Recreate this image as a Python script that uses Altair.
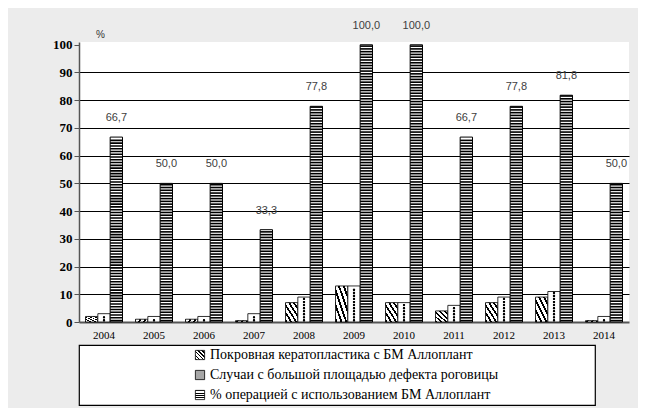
import altair as alt
import pandas as pd

years = ["2004", "2005", "2006", "2007", "2008", "2009", "2010", "2011", "2012", "2013", "2014"]
s1 = [2, 1, 1, 0.5, 7, 13, 7, 4, 7, 9, 0.5]
s2 = [3, 2, 2, 3, 9, 13, 7, 6, 9, 11, 2]
s3 = [66.7, 50, 50, 33.3, 77.8, 100, 100, 66.7, 77.8, 81.8, 50]
series = [
    "Покровная кератопластика с БМ Аллоплант",
    "Случаи с большой площадью дефекта роговицы",
    "% операцией с использованием БМ Аллоплант",
]
y_ticks = list(range(0, 101, 10))

SERIF = "'Liberation Serif', 'Times New Roman', 'DejaVu Serif', serif"
SANS = "'Liberation Sans', Arial, sans-serif"

def frame(vals, name):
    return pd.DataFrame({
        "year": years,
        "series": name,
        "value": vals,
        "label": [f"{v:.1f}".replace(".", ",") for v in vals],
    })

d1, d2, d3 = frame(s1, series[0]), frame(s2, series[1]), frame(s3, series[2])

# horizontal hatching texture for the third series, derived from its values
stripe_rows = []
for yr, v in zip(years, s3):
    k = 0
    while k + 0.8 <= v:
        stripe_rows.append({"year": yr, "series": series[2], "lo": k + 0.22, "hi": k + 0.8})
        k += 1
dst = pd.DataFrame(stripe_rows)

# dotted texture for the second series, derived from its values
dot_a, dot_b = [], []
for yr, v in zip(years, s2):
    k = 0
    while 0.6 + 1.1 * k < v - 0.3:
        row = {"year": yr, "series": series[1], "pos": 0.6 + 1.1 * k}
        (dot_a if k % 2 == 0 else dot_b).append(row)
        k += 1
dda, ddb = pd.DataFrame(dot_a), pd.DataFrame(dot_b)

def stripes_gradient(n, x1, y1, x2, y2, dark=0.45):
    stops = []
    for i in range(n):
        a = i / n
        b = (i + dark) / n
        c = (i + 1) / n
        stops += [
            alt.GradientStop(offset=a, color="black"),
            alt.GradientStop(offset=b, color="black"),
            alt.GradientStop(offset=b, color="white"),
            alt.GradientStop(offset=c, color="white"),
        ]
    return alt.Gradient(gradient="linear", stops=stops, x1=x1, y1=y1, x2=x2, y2=y2)

grad_diag = stripes_gradient(5, 0, 1, 1, 0, dark=0.4)
grad_horiz = stripes_gradient(4, 0, 0, 0, 1, dark=0.4)
dots_fill = "#a6a6a6"

x_enc = alt.X(
    "year:N", sort=years, title=None,
    scale=alt.Scale(domain=years, paddingInner=0.26, paddingOuter=0.13),
    axis=alt.Axis(labelFont=SERIF, labelFontSize=11, labelColor="black",
                  labelPadding=7, ticks=False, domainColor="#555555", domainWidth=2,
                  labelAngle=0),
)
xo_enc = alt.XOffset("series:N", sort=series,
                     scale=alt.Scale(domain=series, paddingInner=0, paddingOuter=0))
y_axis = alt.Axis(
    values=y_ticks, title="%", titleAngle=0, titleX=21, titleY=-3, titleAlign="center",
    titleBaseline="bottom", titleFont=SANS, titleFontSize=10,
    titleFontWeight="normal", titleColor="#333333",
    labelFont=SERIF, labelFontSize=13, labelFontWeight="bold", labelColor="black",
    tickColor="#555555", tickSize=5, domainColor="#555555", domainWidth=1.5,
    gridColor="black", gridWidth=1.2,
    gridOpacity={"condition": {"test": "datum.value >= 100 || datum.value <= 0", "value": 0}, "value": 1},
)
y_scale = alt.Scale(domain=[0, 101], nice=False)

def yq(field):
    return alt.Y(field, scale=y_scale, axis=y_axis)

bar1 = alt.Chart(d1).mark_bar(fill=grad_diag, stroke="black", strokeWidth=0.8).encode(
    x=x_enc, xOffset=xo_enc, y=yq("value:Q"))
bar2 = alt.Chart(d2).mark_bar(fill="white", stroke="black", strokeWidth=0.8).encode(
    x=x_enc, xOffset=xo_enc, y=yq("value:Q"))
dot_layers = []
for dfd, offsets in ((dda, (-3.5, 0, 3.5)), (ddb, (-1.8, 1.8))):
    for off in offsets:
        dot_layers.append(
            alt.Chart(dfd).mark_circle(size=5, color="black", opacity=1, dx=off).encode(
                x=x_enc, xOffset=xo_enc, y=yq("pos:Q")))
bar3 = alt.Chart(d3).mark_bar(fill="white", stroke="black", strokeWidth=1).encode(
    x=x_enc, xOffset=xo_enc, y=yq("value:Q"))
stripes = alt.Chart(dst).mark_bar(fill="black").encode(
    x=x_enc, xOffset=xo_enc, y=yq("lo:Q"), y2="hi:Q")
labels = alt.Chart(d3).mark_text(baseline="bottom", dy=-14, font=SANS,
                                 fontSize=11, color="#404040").encode(
    x=x_enc, xOffset=xo_enc, y=yq("value:Q"), text="label:N")

top = alt.layer(bar1, bar2, *dot_layers, bar3, stripes, labels).properties(
    width=550, height=280, view=alt.ViewBackground(fill="white", stroke=None))

# legend box
leg = pd.DataFrame({"series": series})
ly = alt.Y("series:N", sort=series, axis=None, scale=alt.Scale(domain=series, padding=0.5))
sym1 = alt.Chart(leg.iloc[[0]]).mark_square(size=85, fill=grad_diag, stroke="black",
                                            strokeWidth=0.8, opacity=1).encode(x=alt.value(121), y=ly)
sym2 = alt.Chart(leg.iloc[[1]]).mark_square(size=85, fill=dots_fill, stroke="black",
                                            strokeWidth=0.8, opacity=1).encode(x=alt.value(121), y=ly)
sym3 = alt.Chart(leg.iloc[[2]]).mark_square(size=85, fill=grad_horiz, stroke="black",
                                            strokeWidth=0.8, opacity=1).encode(x=alt.value(121), y=ly)
ltxt = alt.Chart(leg).mark_text(align="left", baseline="middle", font=SERIF,
                                fontSize=14, color="black").encode(
    x=alt.value(131), y=ly, text="series:N")
legend = alt.layer(sym1, sym2, sym3, ltxt).properties(
    width=516, height=60,
    view=alt.ViewBackground(fill="white", stroke="black", strokeWidth=1.2))

chart = alt.vconcat(top, legend, spacing=4).properties(
    background="#ececec",
    padding={"left": 44, "top": 11, "right": 9, "bottom": 2},
)

chart.save("out.html", embed_options={"renderer": "svg", "actions": False})
